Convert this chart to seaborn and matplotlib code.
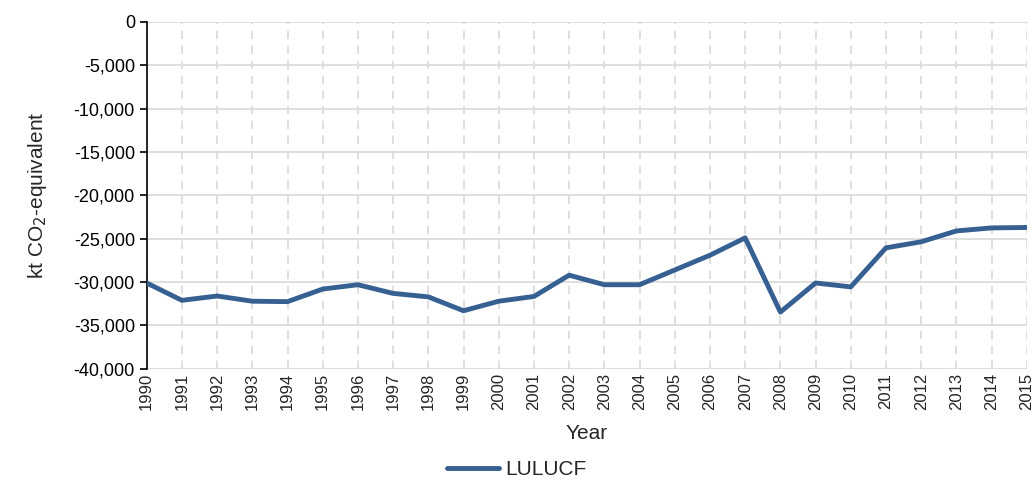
import matplotlib.pyplot as plt
import matplotlib.ticker as mticker
import pandas as pd
import seaborn as sns

# data
years = list(range(1990, 2016))
lulucf = [-30100, -32100, -31600, -32200, -32250, -30800, -30300, -31300, -31700,
          -33300, -32200, -31650, -29200, -30300, -30300, -28600, -26900, -24900,
          -33450, -30100, -30550, -26050, -25350, -24100, -23750, -23700]

data = pd.DataFrame({"Year": years, "LULUCF": lulucf})

sns.set_style("white")
plt.rcParams["font.family"] = ["Liberation Sans", "DejaVu Sans"]

fig = plt.figure(figsize=(10.33, 4.86), dpi=100)
ax = fig.add_axes([0.142, 0.241, 0.852, 0.714])

sns.lineplot(data=data, x="Year", y="LULUCF", color="#366092", linewidth=3.5,
             label="LULUCF", ax=ax, zorder=3)

ax.set_xlim(1990, 2015)
ax.set_ylim(-40000, 0)
ax.set_xticks(years)
ax.set_xticklabels([str(y) for y in years], rotation=90, fontsize=12)
ax.set_yticks(range(-40000, 1, 5000))
ax.yaxis.set_major_formatter(mticker.FuncFormatter(lambda v, p: f"{int(v):,}"))
ax.tick_params(axis="y", labelsize=13, direction="out", length=5, width=1.2, left=True, colors="black")
ax.tick_params(axis="x", length=0, pad=3)

ax.grid(axis="y", color="#d9d9d9", linewidth=1.2, linestyle="-", zorder=0)
ax.grid(axis="x", color="#d9d9d9", linewidth=1.2, linestyle=(0, (5, 4)), zorder=0)

for s in ["top", "right", "bottom"]:
    ax.spines[s].set_visible(False)
ax.spines["left"].set_color("black")
ax.spines["left"].set_linewidth(1.2)

ax.set_xlabel("Year", fontsize=15, labelpad=10)
ax.set_ylabel("kt CO$_2$-equivalent", fontsize=15, labelpad=18)

ax.legend(loc="center", bbox_to_anchor=(0.5, 0.033), bbox_transform=fig.transFigure,
          frameon=False, fontsize=15, handlelength=2.5, handletextpad=0.3)

fig.savefig("out.png", dpi=100)
